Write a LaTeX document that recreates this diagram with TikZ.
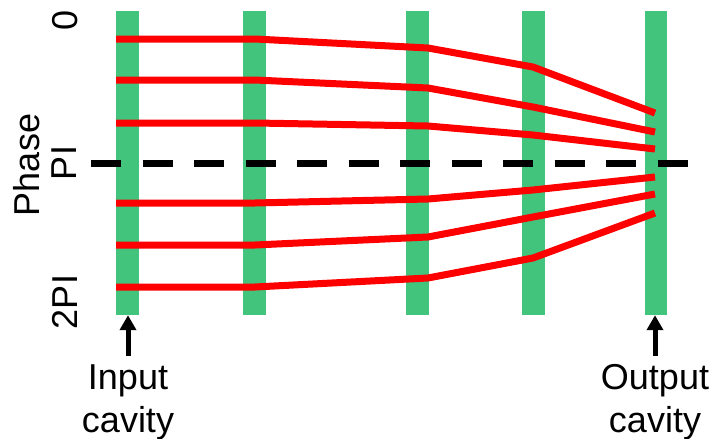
\documentclass[tikz,border=0pt]{standalone}
\usepackage{fontspec}
\setmainfont{Liberation Sans}
\usetikzlibrary{arrows.meta}
\definecolor{cavgreen}{RGB}{66,196,125}
\begin{document}
\begin{tikzpicture}[x=1pt,y=-1pt,
  bar/.style={fill=cavgreen,draw=none,minimum width=22.5pt,minimum height=304pt,inner sep=0pt},
  beam/.style={draw=red,line width=7pt,line join=miter},
  phaseline/.style={draw=black,line width=7pt,dash pattern=on 30pt off 21.5pt},
  lab/.style={font=\fontsize{36}{43}\selectfont,inner sep=0pt,anchor=base},
  vlab/.style={lab,rotate=90},
  arr/.style={draw=black,line width=5pt,-{Triangle[length=15pt,width=16pt]}}]
\useasboundingbox (0,0) rectangle (716,439);
% cavities
\node[bar] (bar1) at (127.5,163) {};
\node[bar] (bar2) at (254.5,163) {};
\node[bar] (bar3) at (417.5,163) {};
\node[bar] (bar4) at (533.5,163) {};
\node[bar] (bar5) at (656,163) {};
% electron trajectories
\draw[beam] (116,39) -- (255,39) -- (428,48) -- (533,67) -- (655,113);
\draw[beam] (116,80) -- (255,80) -- (428,88) -- (533,107) -- (655,132);
\draw[beam] (116,123) -- (255,123) -- (428,126) -- (533,135) -- (655,149);
\draw[beam] (116,203) -- (255,203) -- (428,199) -- (533,190) -- (655,177);
\draw[beam] (116,245) -- (255,245) -- (428,237) -- (533,217) -- (655,194);
\draw[beam] (116,287) -- (255,287) -- (428,278) -- (533,258) -- (655,213);
% PI line
\coordinate (dl) at (91,163);
\coordinate (dr) at (689,163);
\draw[phaseline] (dl) -- (dr);
% axis labels
\node[vlab] (zero) at (77,20) {0};
\node[vlab] (pi) at (76,163) {PI};
\node[vlab] (twopi) at (77,302) {2PI};
\node[vlab] (phase) at (39,165) {Phase};
% cavity labels
\node[lab] (inlab) at (128,389) {Input};
\node[lab] (incav) at (128,432) {cavity};
\node[lab] (outlab) at (655,389) {Output};
\node[lab] (outcav) at (655,432) {cavity};
\draw[arr] ([yshift=8pt]inlab.north) -- (inlab.north |- bar1.south);
\draw[arr] ([yshift=8pt]outlab.north) -- (outlab.north |- bar5.south);
\end{tikzpicture}
\end{document}
